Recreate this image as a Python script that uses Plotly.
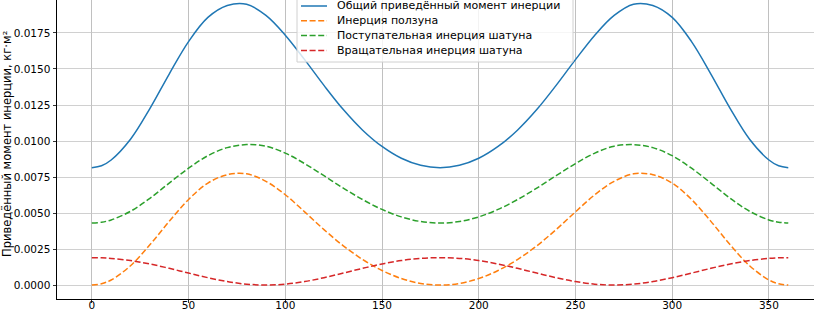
import plotly.graph_objects as go

# ---- data ----
angle_deg = [0, 5] + list(range(10, 351, 10)) + [355, 360]

total_inertia = [0.00815, 0.00828, 0.00868, 0.01012, 0.01225, 0.01465, 0.01690, 0.01858, 0.01941, 0.01950,
                 0.01872, 0.01735, 0.01565, 0.01386, 0.01218, 0.01075, 0.00962, 0.00880, 0.00831,
                 0.00815,
                 0.00831, 0.00880, 0.00962, 0.01075, 0.01218, 0.01386, 0.01565, 0.01735, 0.01872,
                 0.01950, 0.01941, 0.01858, 0.01690, 0.01465, 0.01225, 0.01012, 0.00868, 0.00828, 0.00815]

slider_inertia = [0.00000, 0.00009, 0.00035, 0.00134, 0.00279, 0.00442, 0.00594, 0.00708, 0.00766, 0.00772,
                  0.00720, 0.00627, 0.00508, 0.00385, 0.00272, 0.00177, 0.00101, 0.00045, 0.00011,
                  0.00000,
                  0.00011, 0.00045, 0.00101, 0.00177, 0.00272, 0.00385, 0.00508, 0.00627, 0.00720,
                  0.00772, 0.00766, 0.00708, 0.00594, 0.00442, 0.00279, 0.00134, 0.00035, 0.00009, 0.00000]

rod_translational = [0.00430, 0.00436, 0.00452, 0.00512, 0.00602, 0.00708, 0.00811, 0.00898, 0.00954, 0.00975,
                     0.00964, 0.00916, 0.00843, 0.00759, 0.00673, 0.00593, 0.00525, 0.00473, 0.00441,
                     0.00430,
                     0.00441, 0.00473, 0.00525, 0.00593, 0.00673, 0.00759, 0.00843, 0.00916, 0.00964,
                     0.00975, 0.00954, 0.00898, 0.00811, 0.00708, 0.00602, 0.00512, 0.00452, 0.00436, 0.00430]

rod_rotational = [0.00190, 0.00189, 0.00185, 0.00170, 0.00146, 0.00116, 0.00083, 0.00051, 0.00024, 0.00006,
                  0.00000, 0.00006, 0.00024, 0.00051, 0.00083, 0.00116, 0.00146, 0.00170, 0.00185,
                  0.00190,
                  0.00185, 0.00170, 0.00146, 0.00116, 0.00083, 0.00051, 0.00024, 0.00006, 0.00000,
                  0.00006, 0.00024, 0.00051, 0.00083, 0.00116, 0.00146, 0.00170, 0.00185, 0.00189, 0.00190]

series_names = ["Общий приведённый момент инерции",
                "Инерция ползуна",
                "Поступательная инерция шатуна",
                "Вращательная инерция шатуна"]
series_values = [total_inertia, slider_inertia, rod_translational, rod_rotational]
series_colors = ["#1f77b4", "#ff7f0e", "#2ca02c", "#d62728"]
series_dash = ["solid", "6px,2.6px", "6px,2.6px", "6px,2.6px"]

x_ticks = [0, 50, 100, 150, 200, 250, 300, 350]
y_ticks = [0.0, 0.0025, 0.005, 0.0075, 0.01, 0.0125, 0.015, 0.0175]
y_label = "Приведённый момент инерции, кг·м²"

# ---- figure ----
W, H = 814, 311
ML, MR, MT, MB = 57, 0, 0, 12
PW, PH = W - ML - MR, H - MT - MB
FONT = "DejaVu Sans"

fig = go.Figure()
for name, vals, col, dash in zip(series_names, series_values, series_colors, series_dash):
    fig.add_trace(go.Scatter(x=angle_deg, y=vals, mode="lines", name=name,
                             line=dict(color=col, width=1.5, dash=dash, shape="spline", smoothing=1.0),
                             showlegend=False, hoverinfo="skip"))

def px_x(p):
    return (p - ML) / PW

def px_y(p):
    return 1 - (p - MT) / PH

shapes = []
annotations = []
# legend box
shapes.append(dict(type="rect", xref="paper", yref="paper",
                   x0=px_x(297), x1=px_x(573), y0=px_y(62), y1=px_y(-4),
                   line=dict(color="#d0d0d0", width=1), fillcolor="rgba(255,255,255,0.8)",
                   layer="above"))
for i, (name, col, dash) in enumerate(zip(series_names, series_colors, series_dash)):
    yy = 6 + 14.8 * i
    shapes.append(dict(type="line", xref="paper", yref="paper",
                       x0=px_x(301), x1=px_x(327), y0=px_y(yy), y1=px_y(yy),
                       line=dict(color=col, width=1.5, dash=dash), layer="above"))
    annotations.append(dict(xref="paper", yref="paper", x=px_x(335), y=px_y(yy),
                            xanchor="left", yanchor="middle", text=name, showarrow=False,
                            font=dict(family=FONT, size=11, color="black")))

annotations.append(dict(xref="paper", yref="paper", x=px_x(7), y=px_y(144),
                        xanchor="center", yanchor="middle", text=y_label, textangle=-90,
                        showarrow=False, font=dict(family=FONT, size=11.5, color="black")))

fig.update_layout(
    width=W, height=H,
    margin=dict(l=ML, r=MR, t=MT, b=MB, pad=0, autoexpand=False),
    paper_bgcolor="white", plot_bgcolor="white",
    font=dict(family=FONT, size=10.5, color="black"),
    shapes=shapes, annotations=annotations,
    showlegend=False, hovermode=False,
)
fig.update_xaxes(range=[-18, 373.3], tickvals=x_ticks, ticktext=[str(v) for v in x_ticks],
                 automargin=False,
                 showgrid=True, gridcolor="#b0b0b0", gridwidth=0.8, zeroline=False,
                 showline=True, linecolor="black", linewidth=1,
                 ticks="outside", ticklen=3, tickcolor="black", tickwidth=0.8,
                 ticklabelstandoff=-7,
                 tickfont=dict(family=FONT, size=10.5, color="black"))
fig.update_yaxes(range=[-0.00097, 0.01979], tickvals=y_ticks,
                 ticktext=[f"{v:.4f}" for v in y_ticks],
                 automargin=False,
                 showgrid=True, gridcolor="#c4c4c4", gridwidth=0.8, zeroline=False,
                 showline=True, linecolor="black", linewidth=1,
                 ticks="outside", ticklen=3.5, tickcolor="black", tickwidth=0.8,
                 tickfont=dict(family=FONT, size=10.5, color="black"))

fig.write_html("out.html", config={"displayModeBar": False, "staticPlot": True},
               post_script="document.body.style.margin='0';document.body.style.overflow='hidden';")
